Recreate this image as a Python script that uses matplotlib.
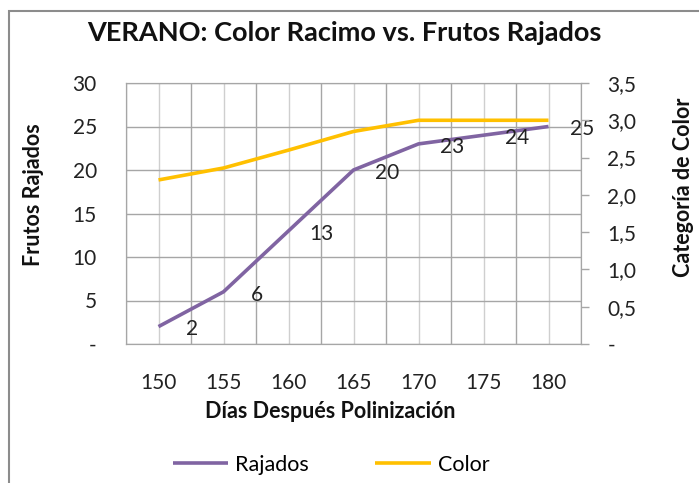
import matplotlib.pyplot as plt
import matplotlib.ticker as mticker
from matplotlib.patches import Rectangle

plt.rcParams['font.family'] = ['Lato', 'DejaVu Sans']

dias = [150, 155, 160, 165, 170, 175, 180]
rajados = [2, 6, 13, 20, 23, 24, 25]
color = [2.2, 2.36, 2.6, 2.85, 3.0, 3.0, 3.0]

purple = '#8064A2'
yellow = '#FFC000'
grid_dark = '#a6a6a6'
grid_light = '#cfcfcf'

fig = plt.figure(figsize=(6.99, 4.83), dpi=100)
fig.patches.append(Rectangle((9 / 699, -0.5), 2, 0.5 + 1 - 11 / 483, transform=fig.transFigure,
                             fill=False, edgecolor='#8c8c8c', lw=1.5))

ax = fig.add_axes([126 / 699, 1 - 344 / 483, 455 / 699, 261 / 483])
ax.plot(dias, rajados, color=purple, lw=2.6, solid_capstyle='butt', zorder=3)
for x, y in zip(dias, rajados):
    ax.annotate(str(y), (x, y), xytext=(24, -2), textcoords='offset points',
                ha='center', va='center', fontsize=15, color='#222222', zorder=4)

ax.set_xlim(147.5, 182.5)
ax.set_ylim(0, 30)
ax.set_xticks(dias)
ax.set_xticks([147.5 + 5 * i for i in range(8)], minor=True)
ax.set_yticks(range(0, 31, 5))
ax.yaxis.set_major_formatter(mticker.FuncFormatter(lambda v, p: '-' if v == 0 else f'{v:.0f}'))
ax.grid(True, which='major', axis='x', color=grid_light, lw=1)
ax.grid(True, which='minor', axis='x', color=grid_dark, lw=1)
ax.grid(True, which='major', axis='y', color=grid_dark, lw=1)
ax.set_axisbelow(True)
ax.tick_params(axis='x', which='both', length=0, pad=21, labelsize=15, colors='#222222')
ax.tick_params(axis='y', length=0, pad=21, labelsize=15, colors='#222222')
for s in ax.spines.values():
    s.set_color(grid_dark)

ax2 = ax.twinx()
ax2.plot(dias, color, color=yellow, lw=2.6, solid_capstyle='butt', zorder=3)
ax2.set_ylim(0, 3.5)
ax2.set_yticks([0.5 * i for i in range(8)])
ax2.yaxis.set_major_formatter(
    mticker.FuncFormatter(lambda v, p: '-' if v == 0 else f'{v:.1f}'.replace('.', ',')))
ax2.tick_params(axis='y', length=6, width=1, color=grid_dark, pad=13, labelsize=15,
                labelcolor='#222222')
for s in ax2.spines.values():
    s.set_color(grid_dark)

fig.text(344 / 699, 1 - 33 / 483, 'VERANO: Color Racimo vs. Frutos Rajados', ha='center', va='center',
         fontsize=19.5, fontweight='bold', color='#111111')
fig.text(330 / 699, 1 - 411 / 483, 'Días Después Polinización', ha='center', va='center',
         fontsize=15.5, fontweight='bold', color='#111111')
fig.text(33 / 699, 1 - 195 / 483, 'Frutos Rajados', ha='center', va='center', rotation=90,
         fontsize=15.5, fontweight='bold', color='#111111')
fig.text(683 / 699, 1 - 187 / 483, 'Categoría de Color', ha='center', va='center', rotation=90,
         fontsize=15.5, fontweight='bold', color='#111111')

h1 = ax.get_lines()[0]
h2 = ax2.get_lines()[0]
fig.legend([h1, h2], ['Rajados', 'Color'], loc='center', bbox_to_anchor=(331 / 699, 1 - 465 / 483),
           ncol=2, frameon=False, fontsize=15.5, handlelength=2.6, handletextpad=0.3,
           columnspacing=3.1)

fig.savefig('out.png', dpi=100)
